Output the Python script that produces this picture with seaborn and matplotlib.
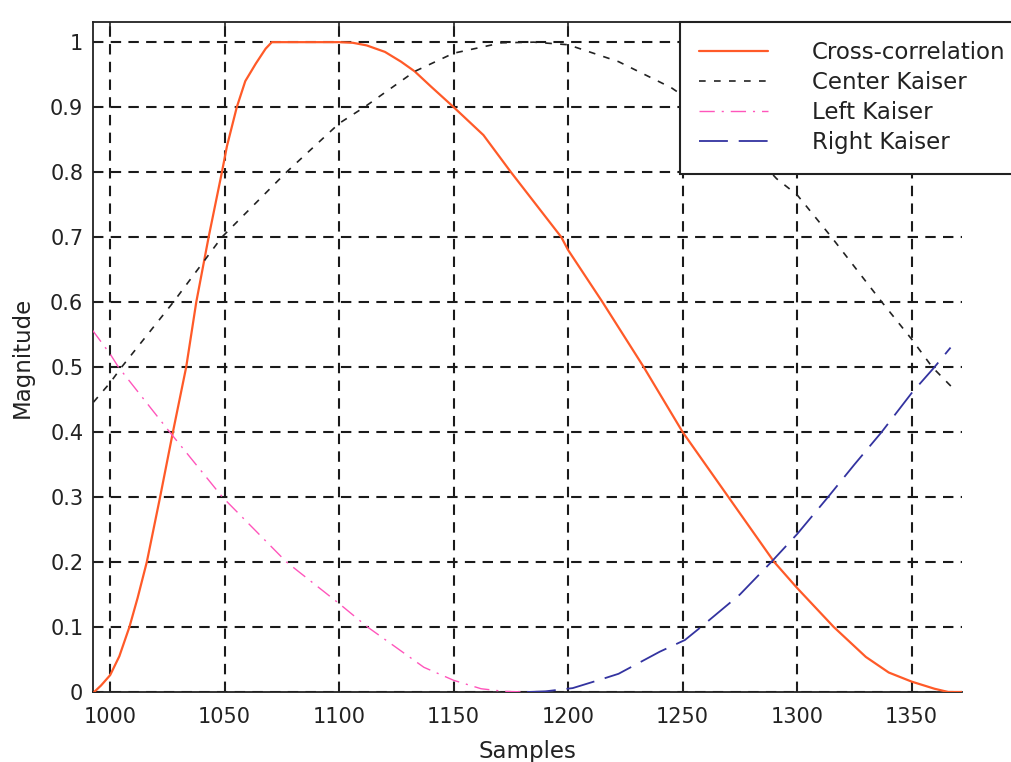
import numpy as np
import pandas as pd
import matplotlib
matplotlib.use("Agg")
import matplotlib.pyplot as plt
import seaborn as sns
from matplotlib.ticker import FormatStrFormatter

# values
cc_x = [993, 996, 1000, 1004, 1008.4, 1012, 1016, 1021.8, 1027.4, 1033.2, 1037.6, 1043, 1048.8, 1051,
        1055.3, 1059, 1063.6, 1067.9, 1070.6, 1085, 1100, 1106, 1112, 1120, 1127, 1133, 1140, 1150,
        1163, 1175, 1186, 1197, 1200, 1215, 1233, 1250, 1270, 1290, 1300, 1316, 1330, 1340, 1350,
        1360, 1366, 1372]
cc_y = [0, 0.01, 0.026, 0.055, 0.1, 0.145, 0.2, 0.3, 0.4, 0.5, 0.6, 0.7, 0.8, 0.84,
        0.9, 0.94, 0.967, 0.99, 1.0, 1.0, 1.0, 0.999, 0.995, 0.985, 0.97, 0.955, 0.932, 0.9,
        0.857, 0.8, 0.75, 0.7, 0.68, 0.6, 0.5, 0.4, 0.3, 0.2, 0.16, 0.1, 0.054, 0.03, 0.016,
        0.005, 0, 0]

ck_x = [992.7, 1000, 1005, 1027.6, 1048.8, 1077, 1100, 1111, 1133, 1150, 1171, 1185, 1200, 1222,
        1245, 1270, 1291, 1300, 1315, 1337, 1350, 1359, 1369]
ck_y = [0.446, 0.476, 0.5, 0.6, 0.7, 0.8, 0.875, 0.9, 0.955, 0.983, 0.999, 1.0, 0.996, 0.97,
        0.93, 0.87, 0.79, 0.765, 0.7, 0.6, 0.543, 0.5, 0.464]

lk_x = [992, 1000, 1003.6, 1026, 1049, 1077, 1100, 1112.4, 1137, 1150, 1162, 1172, 1182]
lk_y = [0.558, 0.52, 0.5, 0.4, 0.3, 0.2, 0.136, 0.1, 0.038, 0.018, 0.005, 0.001, 0]

rk_x = [1182, 1190, 1202, 1214, 1222, 1240, 1251, 1258, 1275, 1288.7, 1300, 1313.5, 1325,
        1336.9, 1350, 1360, 1367]
rk_y = [0, 0.001, 0.006, 0.019, 0.028, 0.062, 0.08, 0.1, 0.15, 0.2, 0.243, 0.3, 0.35,
        0.4, 0.46, 0.5, 0.53]

x_ticks = [1000, 1050, 1100, 1150, 1200, 1250, 1300, 1350]
y_ticks = [0, 0.1, 0.2, 0.3, 0.4, 0.5, 0.6, 0.7, 0.8, 0.9, 1.0]

sns.set_style("white")
plt.rcParams['font.family'] = ['DejaVu Sans']

fig = plt.figure(figsize=(10.12, 7.62), dpi=100)
ax = fig.add_axes([93 / 1012, 70 / 762, (962 - 93) / 1012, (692 - 22) / 762])

sns.lineplot(x=cc_x, y=cc_y, ax=ax, color="#ff5a28", linewidth=1.6, estimator=None,
             label="Cross-correlation", zorder=3)
sns.lineplot(x=ck_x, y=ck_y, ax=ax, color="#222222", linewidth=1.2, estimator=None,
             label="Center Kaiser", linestyle=(0, (4, 5)), zorder=3)
sns.lineplot(x=lk_x, y=lk_y, ax=ax, color="#ff55bb", linewidth=1.0, estimator=None,
             label="Left Kaiser", linestyle=(0, (11, 5, 1.5, 5)), zorder=3)
sns.lineplot(x=rk_x, y=rk_y, ax=ax, color="#3333a0", linewidth=1.3, estimator=None,
             label="Right Kaiser", linestyle=(0, (16, 6)), zorder=3)

ax.set_xlim(992.5, 1372)
ax.set_ylim(0, 1.031)
ax.set_xticks(x_ticks)
ax.set_yticks(y_ticks)
ax.yaxis.set_major_formatter(FormatStrFormatter('%g'))
ax.tick_params(axis='both', labelsize=15, direction='in', length=5, width=1.2,
               top=True, left=True, bottom=True, right=False, colors='#222222')
ax.tick_params(axis='x', pad=11)
ax.tick_params(axis='y', pad=7)

ax.grid(True, color='#1a1a1a', linestyle=(0, (5, 3.5)), linewidth=1.5, zorder=1)
ax.set_axisbelow(True)

for side in ['left', 'bottom', 'top']:
    ax.spines[side].set_color('#222222')
    ax.spines[side].set_linewidth(1.3)
ax.spines['right'].set_visible(False)

ax.set_xlabel("Samples", fontsize=16.5, color='#222222', labelpad=9)
ax.set_ylabel("Magnitude", fontsize=16.5, color='#222222', labelpad=12)

leg = ax.legend(loc='upper left', bbox_to_anchor=(680 / 1012, 1 - 22 / 762),
                bbox_transform=fig.transFigure, fontsize=16.5, frameon=True, fancybox=False,
                handlelength=3.0, handletextpad=1.9, labelspacing=0.3, borderpad=0.85,
                borderaxespad=0)
leg.get_frame().set_edgecolor('#222222')
leg.get_frame().set_linewidth(1.5)
leg.get_frame().set_alpha(1)
for t in leg.get_texts():
    t.set_color('#222222')

fig.savefig("out.png", dpi=100)
